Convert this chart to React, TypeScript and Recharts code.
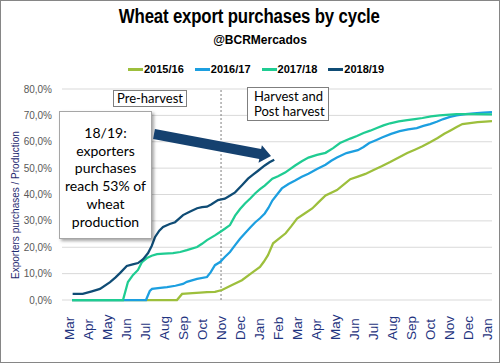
import React from 'react';
import { LineChart, Line, XAxis, YAxis, CartesianGrid, ReferenceLine } from 'recharts';

// month ticks, Mar of year 1 through Jan of year 3
const months = ['Mar', 'Apr', 'May', 'Jun', 'Jul', 'Aug', 'Sep', 'Oct', 'Nov', 'Dec', 'Jan', 'Feb',
  'Mar', 'Apr', 'May', 'Jun', 'Jul', 'Aug', 'Sep', 'Oct', 'Nov', 'Dec', 'Jan'];
const yTicks = [0, 10, 20, 30, 40, 50, 60, 70, 80];

// [month position, % of production purchased]
const c1516: [number, number][] = [
  [0.16, 0], [5.68, 0], [5.95, 2.3], [6.5, 2.6], [6.9, 2.8], [7.26, 3], [7.68, 3.1], [8.05, 3.8],
  [8.58, 5.7], [9.1, 7.5], [9.6, 10.2], [10.05, 12.5], [10.25, 14.5], [10.47, 17], [10.74, 21.5],
  [11.05, 23.3], [11.4, 25.3], [11.7, 28], [12.0, 30.9], [12.4, 32.8], [12.8, 34.7], [13.15, 37.2],
  [13.5, 39.6], [14.1, 41.7], [14.5, 44], [14.8, 45.8], [15.2, 46.8], [15.6, 47.8], [16.0, 49.2],
  [16.45, 50.7], [16.9, 52.3], [17.35, 54], [17.8, 55.7], [18.2, 57], [18.6, 58.3], [19.0, 59.8],
  [19.4, 61.4], [19.75, 63], [20.1, 64.4], [20.4, 65.6], [20.7, 66.7], [21.1, 67.1], [21.5, 67.4],
  [21.9, 67.6], [22.26, 67.8],
];
const c1617: [number, number][] = [
  [0.16, 0], [4.05, 0], [4.25, 3.4], [4.37, 4.2], [4.8, 4.6], [5.16, 4.9], [5.6, 5.4], [6.0, 6.1],
  [6.2, 6.9], [6.74, 8], [7.26, 8.7], [7.45, 10.5], [7.68, 13.2], [7.95, 14.4], [8.2, 16.3],
  [8.47, 18.2], [8.74, 20.8], [9.0, 23.2], [9.26, 25.3], [9.55, 27.6], [9.79, 29.4], [10.05, 31],
  [10.3, 32.8], [10.5, 35], [10.7, 37.7], [10.95, 40], [11.2, 42.3], [11.55, 44], [11.9, 45.3],
  [12.25, 46.7], [12.6, 47.9], [13.05, 49.7], [13.5, 51.3], [13.8, 52.8], [14.1, 54], [14.6, 55.7],
  [15.2, 56.8], [15.5, 58], [15.8, 59.5], [16.15, 60.6], [16.5, 61.7], [16.95, 63], [17.4, 64],
  [17.85, 64.7], [18.3, 65.2], [18.65, 66], [19.0, 66.7], [19.35, 67.6], [19.7, 68.6], [20.05, 69.4],
  [20.4, 70], [20.85, 70.5], [21.3, 70.8], [21.8, 71], [22.26, 71.2],
];
const c1718: [number, number][] = [
  [0.16, 0], [2.84, 0], [3.1, 6.8], [3.37, 9.5], [3.63, 11.4], [3.84, 14.4], [4.1, 15.9], [4.35, 16.8],
  [4.63, 17.4], [5.0, 17.6], [5.47, 17.8], [5.85, 18.2], [6.2, 18.9], [6.74, 20.1], [7.0, 21.3],
  [7.26, 22.7], [7.68, 24.5], [7.95, 25.8], [8.2, 27], [8.47, 28.4], [8.74, 32], [9.0, 34.5],
  [9.26, 36.6], [9.55, 38.6], [9.79, 40.4], [10.05, 42], [10.3, 43.4], [10.7, 46], [11.0, 46.9],
  [11.37, 48.3], [11.9, 51], [12.25, 52.6], [12.6, 54], [13.05, 55], [13.5, 55.8], [13.9, 57.6],
  [14.26, 59.5], [14.8, 61.2], [15.15, 62.2], [15.5, 63.3], [15.85, 64.2], [16.2, 65.2], [16.55, 66.2],
  [16.9, 67], [17.35, 67.7], [17.8, 68.2], [18.2, 68.6], [18.6, 69], [19.05, 69.6], [19.5, 70],
  [20.4, 70.5], [21.3, 70.5], [22.26, 70.4],
];
const c1819: [number, number][] = [
  [0.19, 2.3], [0.72, 2.3], [1.2, 3.3], [1.63, 4.2], [2.16, 6.8], [2.45, 8.6], [2.68, 10.2], [3.04, 12.9],
  [3.35, 13.5], [3.63, 14.0], [3.9, 15.5], [4.16, 17.8], [4.35, 20.5], [4.53, 23.9], [4.75, 26.3],
  [4.95, 27.7], [5.3, 28.8], [5.58, 29.5], [6.0, 32.2], [6.35, 33.5], [6.74, 34.8], [7.0, 35.2],
  [7.26, 35.4], [7.5, 36.3], [7.84, 37.9], [8.2, 38.4], [8.5, 39.7], [8.74, 40.8], [9.1, 43.5],
  [9.42, 46], [9.7, 47.6], [9.95, 49], [10.3, 51], [10.55, 52.2], [10.8, 53.2],
];

const cycles = ['2015/16', '2016/17', '2017/18', '2018/19'];
const colors = ['#9dbf3c', '#1c9fe0', '#1fcc92', '#0f4c75'];
const seriesData = [c1516, c1617, c1718, c1819];

const toRows = (pts: [number, number][]) => pts.map(([m, v]) => ({ m, v }));

const MonthTick = (props: any) => {
  const { x, payload } = props;
  return (
    <text x={x} y={340} transform={`rotate(-90, ${x}, 340)`} textAnchor="start" dominantBaseline="central"
      fontSize={13.5} fill="#1f3480" fontFamily='"Liberation Sans", Arial, sans-serif'>
      {months[payload.value]}
    </text>
  );
};

const boxFont = 'Lato, "Liberation Sans", sans-serif';

export default function App() {
  return (
    <div style={{ position: 'absolute', left: 0, top: 0, width: 500, height: 363, background: '#fff', fontFamily: '"Liberation Sans", Arial, sans-serif' }}>
      <LineChart width={500} height={363} margin={{ top: 89, right: 8, bottom: 8, left: 12 }}>
        <CartesianGrid vertical={false} stroke="#d9d9d9" />
        <XAxis type="number" dataKey="m" domain={[-0.37, 22.26]} ticks={months.map((_, i) => i)}
          allowDataOverflow axisLine={false} tickLine={false} height={55} tick={<MonthTick />} interval={0} />
        <YAxis type="number" domain={[0, 80]} ticks={yTicks} width={50} axisLine={false} tickLine={false}
          tickSize={6} tickMargin={4}
          tick={{ fill: '#595959', fontSize: 10, fontFamily: '"Liberation Sans", Arial, sans-serif' }}
          tickFormatter={(v: number) => v.toFixed(1).replace('.', ',') + '%'} />
        <ReferenceLine x={8} stroke="#7f7f7f" strokeDasharray="2 2" strokeWidth={1} />
        {seriesData.map((s, i) => (
          <Line key={cycles[i]} data={toRows(s)} dataKey="v" name={cycles[i]} stroke={colors[i]}
            strokeWidth={2.25} dot={false} type="linear" isAnimationActive={false} />
        ))}
      </LineChart>

      <div style={{ position: 'absolute', left: 0, top: 5, width: 500, textAlign: 'center' }}>
        <span style={{ display: 'inline-block', transform: 'scaleX(0.84)', marginLeft: -2,
          fontWeight: 'bold', fontSize: 20, color: '#000', letterSpacing: -0.2 }}>
          Wheat export purchases by cycle
        </span>
      </div>
      <div style={{ position: 'absolute', left: 0, top: 33, width: 500, paddingLeft: 20, boxSizing: 'border-box', textAlign: 'center',
        fontWeight: 'bold', fontSize: 12, color: '#000' }}>
        @BCRMercados
      </div>

      <div style={{ position: 'absolute', left: 128, top: 63, display: 'flex', fontWeight: 'bold', fontSize: 11, color: '#000' }}>
        {cycles.map((c, i) => (
          <div key={c} style={{ display: 'flex', alignItems: 'center', marginRight: 11 }}>
            <span style={{ display: 'inline-block', width: 15, height: 3, background: colors[i], marginRight: 1 }} />
            <span>{c}</span>
          </div>
        ))}
      </div>

      <div style={{ position: 'absolute', left: 15, top: 205, transform: 'translate(-50%, -50%) rotate(-90deg)', whiteSpace: 'nowrap',
        fontSize: 10, color: '#1f2a70' }}>
        Exporters purchases / Production
      </div>

      <div style={{ position: 'absolute', left: 113, top: 90, width: 74, height: 17, boxSizing: 'border-box', border: '1px solid #7f7f7f',
        background: '#fff', fontFamily: boxFont, fontSize: 13, lineHeight: '15px', textAlign: 'center', color: '#000' }}>
        Pre-harvest
      </div>
      <div style={{ position: 'absolute', left: 247, top: 87, width: 82, height: 34, boxSizing: 'border-box', border: '1px solid #7f7f7f',
        background: '#fff', fontFamily: boxFont, fontSize: 13, lineHeight: '15px', textAlign: 'left', padding: '1px 0 0 6px', color: '#000' }}>
        Harvest and<br />Post harvest
      </div>
      <div style={{ position: 'absolute', left: 59, top: 111, width: 93, height: 128, boxSizing: 'border-box', border: '1px solid #a6a6a6',
        background: '#fff', boxShadow: '2px 2px 3px rgba(0,0,0,0.35)', fontFamily: boxFont, fontSize: 14, lineHeight: '17.7px',
        textAlign: 'center', paddingTop: 12, color: '#000' }}>
        18/19:<br />exporters<br />purchases<br />reach 53% of<br />wheat<br />production
      </div>

      <svg width={500} height={363} style={{ position: 'absolute', left: 0, top: 0, pointerEvents: 'none' }}>
        <polygon points="154.9,129.1 261.1,149.1 261.9,145.2 271,156 258.5,162.8 259.3,158.9 153.1,138.9" fill="#15416f" />
      </svg>

      <div style={{ position: 'absolute', left: 0, top: 0, width: 500, height: 363, boxSizing: 'border-box', border: '1px solid #868686', pointerEvents: 'none' }} />
    </div>
  );
}
